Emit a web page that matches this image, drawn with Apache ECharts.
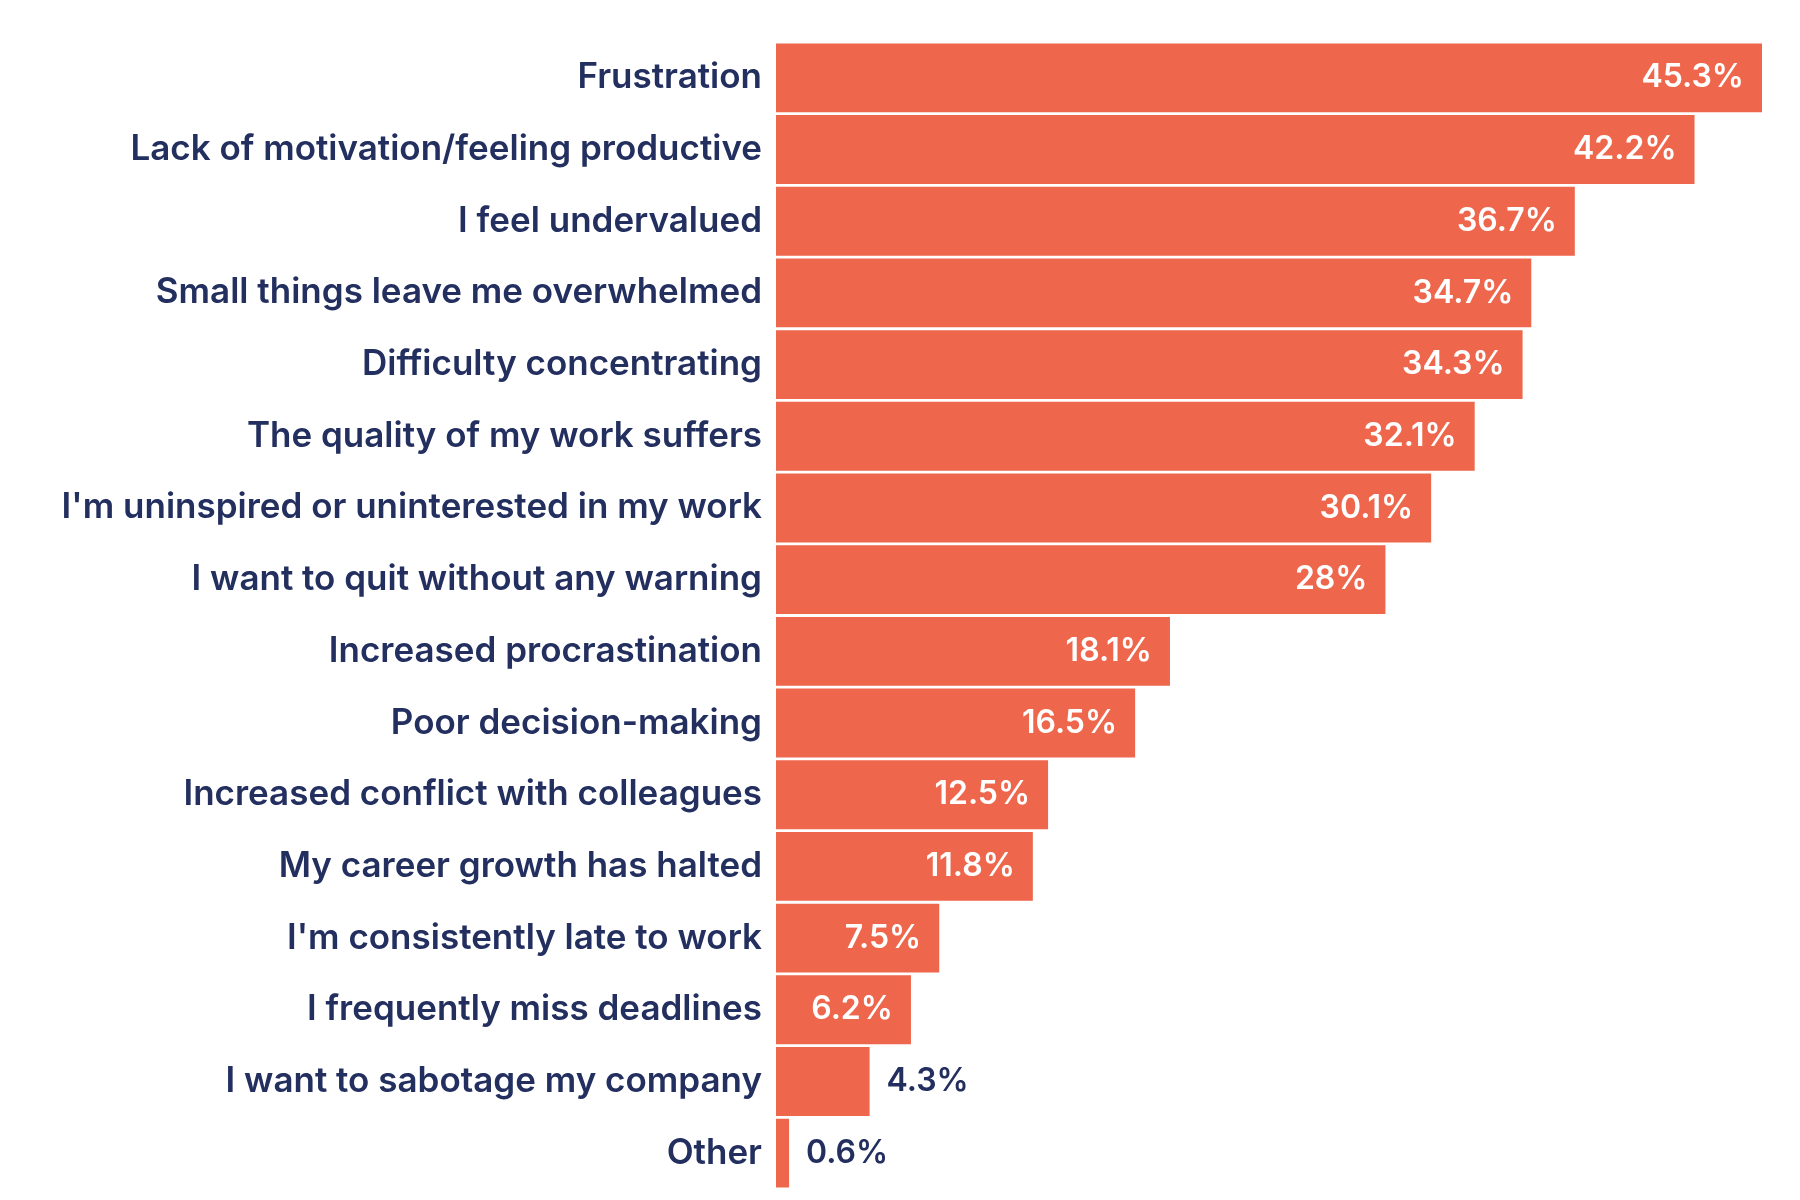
<!DOCTYPE html>
<html lang="en">
<head>
    <meta charset="UTF-8">
    <title>Burnout symptoms</title>
    <script src="https://cdn.jsdelivr.net/npm/echarts@6/dist/echarts.min.js"></script>
    <style>
        html, body { margin: 0; padding: 0; background: #ffffff; }
        #chart { width: 1800px; height: 1200px; }
    </style>
</head>
<body>
<div id="chart"></div>
<script>
    var categories = [
        'Frustration',
        'Lack of motivation/feeling productive',
        'I feel undervalued',
        'Small things leave me overwhelmed',
        'Difficulty concentrating',
        'The quality of my work suffers',
        "I'm uninspired or uninterested in my work",
        'I want to quit without any warning',
        'Increased procrastination',
        'Poor decision-making',
        'Increased conflict with colleagues',
        'My career growth has halted',
        "I'm consistently late to work",
        'I frequently miss deadlines',
        'I want to sabotage my company',
        'Other'
    ];
    var values = [45.3, 42.2, 36.7, 34.7, 34.3, 32.1, 30.1, 28, 18.1, 16.5, 12.5, 11.8, 7.5, 6.2, 4.3, 0.6];

    var navy = '#232f5f';
    var coral = '#ee664b';

    // small bars get their label outside, in navy
    var barData = values.map(function (v) {
        var item = {value: v};
        if (v < 5) {
            item.label = {position: 'right', color: navy, distance: 17};
        }
        return item;
    });

    var myChart = echarts.init(document.getElementById('chart'));
    var option = {
        animation: false,
        grid: {left: 776, right: 38, top: 42, bottom: 11, containLabel: false},
        xAxis: {
            type: 'value',
            min: 0,
            max: 45.3,
            show: false
        },
        yAxis: {
            type: 'category',
            inverse: true,
            data: categories,
            axisLine: {show: false},
            axisTick: {show: false},
            axisLabel: {
                margin: 14,
                color: navy,
                fontFamily: 'Inter',
                fontWeight: 600,
                fontSize: 35
            }
        },
        series: [{
            type: 'bar',
            data: barData,
            barCategoryGap: '4%',
            itemStyle: {color: coral},
            label: {
                show: true,
                position: 'insideRight',
                distance: 18,
                color: '#ffffff',
                fontFamily: 'Inter',
                fontWeight: 600,
                fontSize: 32,
                formatter: '{c}%'
            }
        }]
    };
    myChart.setOption(option);
</script>
</body>
</html>
